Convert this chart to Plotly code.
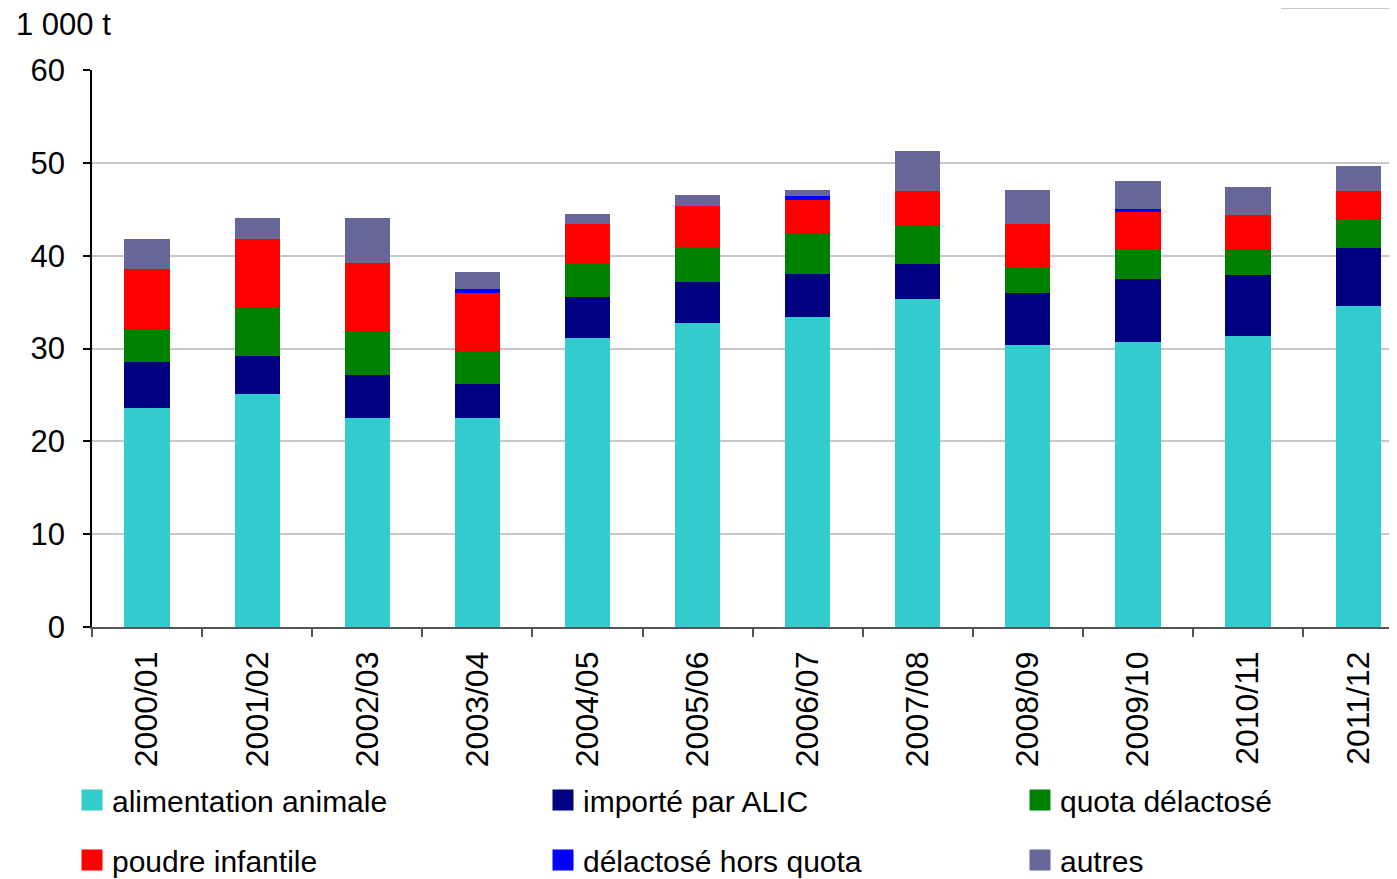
import plotly.graph_objects as go

categories = ["2000/01", "2001/02", "2002/03", "2003/04", "2004/05", "2005/06",
              "2006/07", "2007/08", "2008/09", "2009/10", "2010/11", "2011/12"]

alimentation_animale = [23.6, 25.1, 22.5, 22.5, 31.1, 32.8, 33.4, 35.3, 30.4, 30.7, 31.4, 34.6]
importe_par_alic     = [5.0, 4.1, 4.6, 3.7, 4.4, 4.4, 4.6, 3.8, 5.6, 6.8, 6.5, 6.2]
quota_delactose      = [3.5, 5.2, 4.7, 3.5, 3.6, 3.7, 4.3, 4.1, 2.8, 3.2, 2.7, 3.2]
poudre_infantile     = [6.5, 7.4, 7.4, 6.3, 4.3, 4.5, 3.7, 3.8, 4.6, 4.1, 3.8, 3.0]
delactose_hors_quota = [0.0, 0.0, 0.0, 0.4, 0.0, 0.0, 0.4, 0.0, 0.0, 0.2, 0.0, 0.0]
autres               = [3.2, 2.3, 4.9, 1.8, 1.1, 1.1, 0.7, 4.3, 3.7, 3.0, 3.0, 2.7]

series_names = ["alimentation animale", "importé par ALIC", "quota délactosé",
                "poudre infantile", "délactosé hors quota", "autres"]
series_values = [alimentation_animale, importe_par_alic, quota_delactose,
                 poudre_infantile, delactose_hors_quota, autres]
series_colors = ["#33CCCC", "#000080", "#008000", "#FF0000", "#0000FF", "#666699"]
legend_slots = ["legend", "legend2", "legend3", "legend", "legend2", "legend3"]

y_ticks = [0, 10, 20, 30, 40, 50, 60]

FONT = "Liberation Sans, Arial, sans-serif"
O = 8  # page body margin offset
W, H = 1397 - O, 879 - O
L, T = 92 - O, 70 - O
B = H - (627 - O)
plot_w = W - L
plot_h = H - T - B


def px(fx):
    return (fx - L) / plot_w


def py(fy):
    return (T + plot_h - fy) / plot_h


fig = go.Figure()
for name, vals, col in zip(series_names, series_values, series_colors):
    fig.add_trace(go.Bar(x=categories, y=vals, name=name, marker_color=col,
                         marker_line_width=0, showlegend=False))

# legend-only entries with large square swatches
for i, (name, col, lg) in enumerate(zip(series_names, series_colors, legend_slots)):
    fig.add_trace(go.Scatter(x=[None], y=[None], mode="markers", name=name,
                             legend=lg, legendgroup=f"g{i}",
                             marker=dict(symbol="square", size=16, color=col,
                                         line=dict(color=col, width=5))))

cat_px = 110.1
x_max = -0.5 + plot_w / cat_px

legend_common = dict(orientation="v", xref="container", yref="container",
                     xanchor="left", yanchor="top", tracegroupgap=18,
                     font=dict(family=FONT, size=30, color="black"),
                     bgcolor="rgba(0,0,0,0)", itemclick=False)
legend_top = 1 - 766 / H

fig.update_layout(
    width=W, height=H,
    margin=dict(l=L, r=0, t=T, b=B, pad=0, autoexpand=False),
    paper_bgcolor="white", plot_bgcolor="white",
    barmode="stack", bargap=0.59,
    font=dict(family=FONT, size=31, color="black"),
    legend=dict(x=64 / W, y=legend_top, **legend_common),
    legend2=dict(x=535 / W, y=legend_top, **legend_common),
    legend3=dict(x=1012 / W, y=legend_top, **legend_common),
    xaxis=dict(type="category", range=[-0.5, x_max], tickangle=-90,
               tickson="boundaries", ticks="outside", ticklen=8, tickwidth=1.5,
               tickcolor="#555555", showline=True, linecolor="#555555", linewidth=1.5,
               showgrid=False, tickfont=dict(family=FONT, size=32, color="black"),
               ticklabelstandoff=10),
    yaxis=dict(range=[0, 60], tickvals=y_ticks, ticks="outside", ticklen=7,
               tickwidth=1.5, tickcolor="black", showline=True, linecolor="black",
               linewidth=1.5, showgrid=True, gridcolor="#C8C8C8", gridwidth=1.5,
               zeroline=False, tickfont=dict(family=FONT, size=31, color="black"),
               ticklabelstandoff=12),
    annotations=[dict(text="1 000 t", xref="paper", yref="paper",
                      x=px(14 - O), y=py(24 - O),
                      xanchor="left", yanchor="middle", showarrow=False,
                      font=dict(family=FONT, size=31, color="black"))],
    shapes=[dict(type="rect", xref="paper", yref="paper",
                 x0=px(1282 - O), x1=px(1410 - O),
                 y0=py(0), y1=py(-20),
                 line=dict(color="#C8C8C8", width=2), fillcolor="rgba(0,0,0,0)")],
)

fig.write_html("out.html")
